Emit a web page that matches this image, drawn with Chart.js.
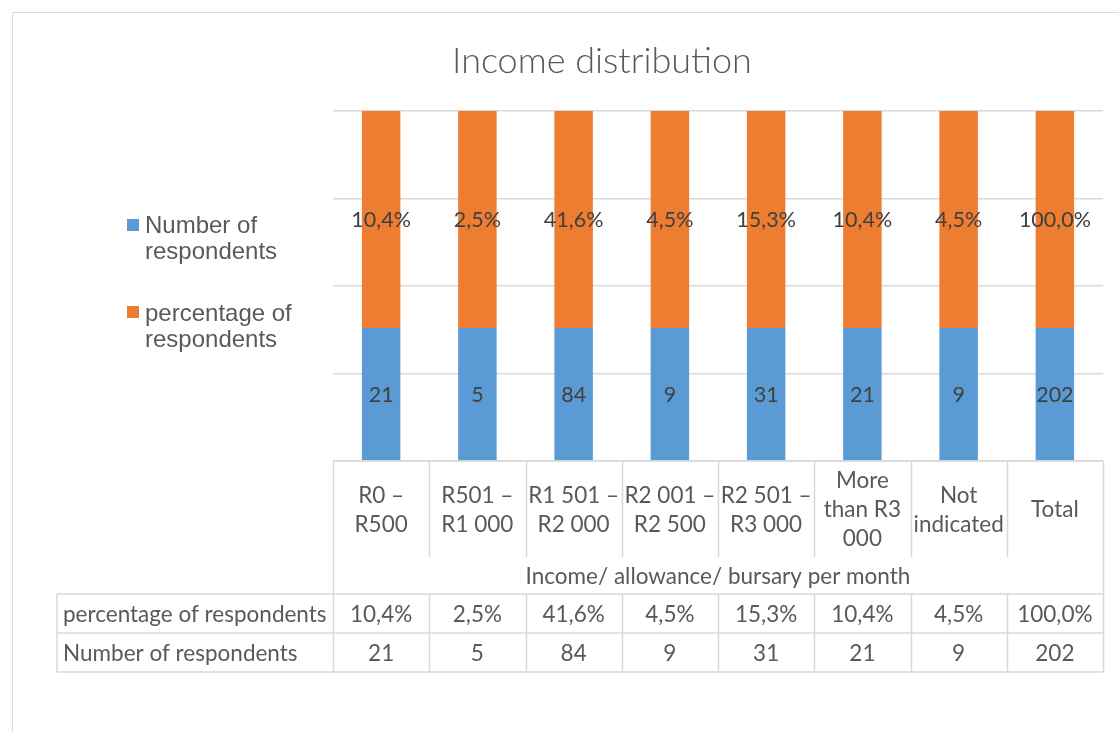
<!DOCTYPE html>
<html>
<head>
<meta charset="utf-8">
<title>Income distribution</title>
<script src="https://cdn.jsdelivr.net/npm/chart.js@4.4.1/dist/chart.umd.min.js"></script>
<style>
  html, body { margin: 0; padding: 0; background: #fff; }
  canvas { display: block; }
</style>
</head>
<body>
<canvas id="incomeChart" width="1119" height="732"></canvas>
<script>
// categories, one entry per line of the label
const categories = [
    ['R0 –', 'R500'],
    ['R501 –', 'R1 000'],
    ['R1 501 –', 'R2 000'],
    ['R2 001 –', 'R2 500'],
    ['R2 501 –', 'R3 000'],
    ['More', 'than R3', '000'],
    ['Not', 'indicated'],
    ['Total']
];
const respondents = [21, 5, 84, 9, 31, 21, 9, 202];
const percentages = [10.4, 2.5, 41.6, 4.5, 15.3, 10.4, 4.5, 100.0];

// the bars are drawn as equal shares of the column (axis 0..100)
const respondentsBar = [38, 38, 38, 38, 38, 38, 38, 38];
const percentagesBar = [62, 62, 62, 62, 62, 62, 62, 62];

const seriesNames = ['Number of respondents', 'percentage of respondents'];
const axisTitle = 'Income/ allowance/ bursary per month';
const chartTitle = 'Income distribution';

const BLUE = '#5B9BD5';
const ORANGE = '#ED7D31';
const GRID = '#D9D9D9';
const TEXT = '#595959';
const FONT = 'Lato, "Open Sans", sans-serif';

const fmtPct = v => v.toFixed(1).replace('.', ',') + '%';

function line(ctx, x1, y1, x2, y2) {
    ctx.beginPath();
    ctx.moveTo(x1, y1);
    ctx.lineTo(x2, y2);
    ctx.stroke();
}

const decorations = {
    id: 'decorations',
    afterDraw(chart) {
        const ctx = chart.ctx;
        const area = chart.chartArea;
        const n = categories.length;
        const colW = (area.right - area.left) / n;
        ctx.save();

        // outer frame (top and left edges)
        ctx.strokeStyle = GRID;
        ctx.lineWidth = 1;
        ctx.beginPath();
        ctx.moveTo(12.5, 732);
        ctx.lineTo(12.5, 12.5);
        ctx.lineTo(1119, 12.5);
        ctx.stroke();

        // title
        ctx.fillStyle = TEXT;
        ctx.font = '300 36px ' + FONT;
        ctx.textAlign = 'center';
        ctx.textBaseline = 'alphabetic';
        ctx.fillText(chartTitle, 602, 73);

        // legend on the left
        ctx.font = '24px "Liberation Sans", Arial, sans-serif';
        ctx.textAlign = 'left';
        const legend = [
            { color: BLUE, y: 219, lines: ['Number of', 'respondents'], base: 233 },
            { color: ORANGE, y: 306, lines: ['percentage of', 'respondents'], base: 321 }
        ];
        legend.forEach(item => {
            ctx.fillStyle = item.color;
            ctx.fillRect(127, item.y, 12, 12);
            ctx.fillStyle = TEXT;
            item.lines.forEach((t, k) => ctx.fillText(t, 145, item.base + k * 26));
        });

        // value labels inside the bars
        ctx.fillStyle = '#404040';
        ctx.font = '21.5px ' + FONT;
        ctx.textAlign = 'center';
        ctx.textBaseline = 'middle';
        chart.getDatasetMeta(0).data.forEach((bar, i) => {
            const p = bar.getProps(['x', 'y', 'base'], true);
            ctx.fillText(String(respondents[i]), p.x, (p.y + p.base) / 2 + 1);
        });
        chart.getDatasetMeta(1).data.forEach((bar, i) => {
            const p = bar.getProps(['x', 'y', 'base'], true);
            ctx.fillText(fmtPct(percentages[i]), p.x, (p.y + p.base) / 2 + 1);
        });

        // data table below the plot
        const top = area.bottom;
        const catBottom = 557;
        const titleBottom = 594;
        const rowH = 39;
        const tableLeft = 57;
        ctx.strokeStyle = GRID;
        ctx.lineWidth = 1.5;
        line(ctx, area.left, top, area.right, top);
        for (let i = 0; i <= n; i++) {
            const x = Math.round(area.left + i * colW) + 0.5;
            const outer = (i === 0 || i === n);
            line(ctx, x, top, x, outer ? titleBottom + 2 * rowH : catBottom);
            if (!outer) line(ctx, x, titleBottom, x, titleBottom + 2 * rowH);
        }
        for (let r = 0; r <= 2; r++) {
            const y = titleBottom + r * rowH;
            line(ctx, tableLeft, y, area.right, y);
        }
        line(ctx, tableLeft, titleBottom, tableLeft, titleBottom + 2 * rowH);

        ctx.fillStyle = TEXT;
        ctx.font = '22.5px ' + FONT;
        ctx.textAlign = 'center';
        ctx.textBaseline = 'middle';
        const lh = 29;
        categories.forEach((lines, i) => {
            const cx = area.left + (i + 0.5) * colW;
            const y0 = (top + catBottom) / 2 + 1 - (lines.length - 1) * lh / 2;
            lines.forEach((t, k) => ctx.fillText(t, cx, y0 + k * lh));
        });
        ctx.fillText(axisTitle, (area.left + area.right) / 2, (catBottom + titleBottom) / 2 + 1);

        const rows = [
            { name: seriesNames[1], cells: percentages.map(fmtPct) },
            { name: seriesNames[0], cells: respondents.map(String) }
        ];
        rows.forEach((row, r) => {
            const cy = titleBottom + (r + 0.5) * rowH + 1;
            ctx.textAlign = 'left';
            ctx.fillText(row.name, tableLeft + 6, cy);
            ctx.textAlign = 'center';
            row.cells.forEach((t, i) => ctx.fillText(t, area.left + (i + 0.5) * colW, cy));
        });

        ctx.restore();
    }
};

new Chart(document.getElementById('incomeChart'), {
    type: 'bar',
    data: {
        labels: categories,
        datasets: [
            { label: seriesNames[0], data: respondentsBar, backgroundColor: BLUE },
            { label: seriesNames[1], data: percentagesBar, backgroundColor: ORANGE }
        ]
    },
    options: {
        responsive: false,
        animation: false,
        devicePixelRatio: 1,
        layout: { padding: { left: 333, right: 16, top: 111, bottom: 271 } },
        datasets: { bar: { barPercentage: 0.4, categoryPercentage: 1 } },
        scales: {
            x: { stacked: true, display: false },
            y: {
                stacked: true,
                min: 0,
                max: 100,
                ticks: { display: false, stepSize: 25 },
                grid: { color: GRID, lineWidth: 1.5, drawTicks: false },
                border: { display: false },
                afterFit: s => { s.width = 0; }
            }
        },
        plugins: {
            legend: { display: false },
            tooltip: { enabled: false },
            title: { display: false }
        }
    },
    plugins: [decorations]
});
</script>
</body>
</html>
